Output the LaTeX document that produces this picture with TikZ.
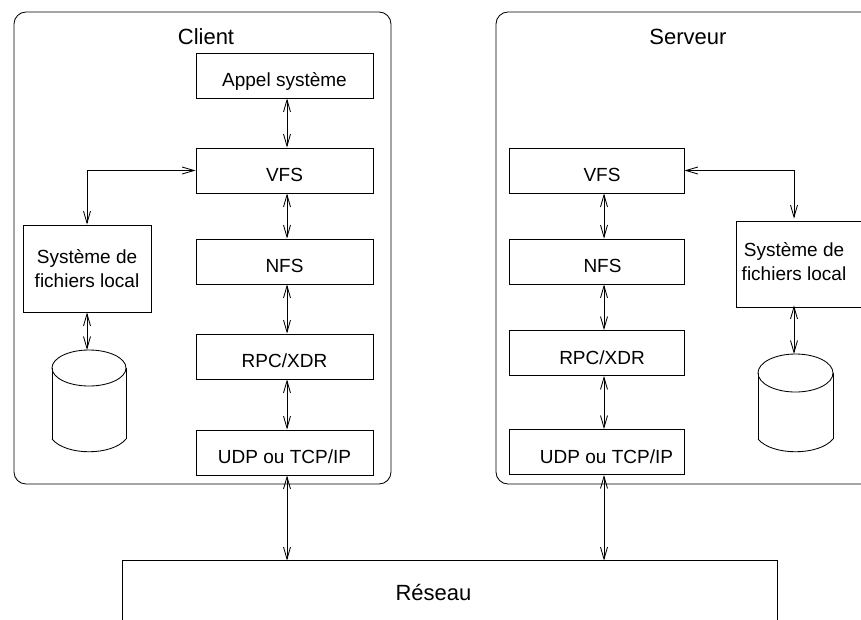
\documentclass[tikz,border=0pt]{standalone}
\usepackage{fontspec}
\setmainfont{Liberation Sans}
\usetikzlibrary{arrows.meta}
\begin{document}
\begin{tikzpicture}[x=1pt,y=-1pt,line width=0.85pt,
  >={Straight Barb[length=12pt,width=7pt]},
  layer/.style={draw,rectangle,inner sep=0pt,minimum height=45pt,
    text height=22pt,text depth=0pt,
    font=\fontsize{19}{24}\selectfont},
  clayer/.style={layer,minimum width=177pt},
  slayer/.style={layer,minimum width=175pt},
  lfsbox/.style={rectangle,inner sep=0pt,align=center,
    font=\fontsize{19}{24}\selectfont},
  container/.style={draw,rectangle,rounded corners=12pt,inner sep=0pt},
  title/.style={font=\fontsize{22}{26}\selectfont},
  link/.style={<->}]
\useasboundingbox (0,0) rectangle (861,619);

% host frames
\node[container,minimum width=377pt,minimum height=472pt] (client) at (202.5,248) {};
\node[container,minimum width=394pt,minimum height=472pt] (server) at (693,248) {};
\node[title] (clientlbl) at (206,37) {Client};
\node[title] (serverlbl) at (688,37) {Serveur};

% client stack
\node[clayer] (cApp) at (284.5,75.5)  {Appel système};
\node[clayer] (cVfs) at (284.5,170.5) {VFS};
\node[clayer] (cNfs) at (284.5,261.5) {NFS};
\node[clayer] (cRpc) at (284.5,356.5) {RPC/XDR};
\node[clayer] (cUdp) at (284.5,452.5) {UDP ou TCP/IP};
\node[lfsbox,draw,minimum width=128pt,minimum height=87pt] (cLfs) at (87,268.5)
  {Système de\\fichiers local};

% server stack
\node[slayer] (sVfs) at (596.5,170.5) {\hspace*{11pt}VFS};
\node[slayer] (sNfs) at (596.5,261.5) {\hspace*{12pt}NFS};
\node[slayer] (sRpc) at (596.5,353)   {\hspace*{11pt}RPC/XDR};
\node[slayer] (sUdp) at (596.5,452)   {\hspace*{20pt}UDP ou TCP/IP};
\node[lfsbox,minimum width=116pt,minimum height=86pt] (sLfs) at (794,262)
  {Système de\\fichiers local};
\draw (880,221) -| (736,307) -- (880,307);

% network
\node[rectangle,inner sep=0pt,minimum width=654pt,minimum height=62pt,
  font=\fontsize{22}{26}\selectfont] (net) at (450,592) {\hspace*{-33pt}Réseau};
\draw (net.south west) |- (net.north east) -- (net.south east);

% client disk
\coordinate (cDisk) at (89,350);
\draw (89,368) ellipse [x radius=37, y radius=18];
\draw (52,368) -- (52,439);
\draw (126,368) -- (126,439);
\draw (52,439) .. controls (66,456) and (112,456) .. (126,439);

% server disk
\coordinate (sDisk) at (795.5,354);
\draw (795.5,373) ellipse [x radius=37.5, y radius=19];
\draw (758,373) -- (758,439);
\draw (833,373) -- (833,439);
\draw (758,439) .. controls (772,456) and (819,456) .. (833,439);

% client links
\draw[link] ([xshift=2.5pt]cApp.south) -- ([xshift=2.5pt]cVfs.north);
\draw[link] ([xshift=2.5pt]cVfs.south) -- ([xshift=2.5pt]cNfs.north);
\draw[link] ([xshift=2.5pt]cNfs.south) -- ([xshift=2.5pt]cRpc.north);
\draw[link] ([xshift=2.5pt]cRpc.south) -- ([xshift=2.5pt]cUdp.north);
\draw[link] (cVfs.west) -| (cLfs.north);
\draw[link] (cLfs.south) -- (cLfs.south |- cDisk);
\draw[link] ([xshift=2.5pt]cUdp.south) -- ([xshift=2.5pt]cUdp.south |- net.north);

% server links
\draw[link] ([xshift=7.5pt]sVfs.south) -- ([xshift=7.5pt]sNfs.north);
\draw[link] ([xshift=7.5pt]sNfs.south) -- ([xshift=7.5pt]sRpc.north);
\draw[link] ([xshift=7.5pt]sRpc.south) -- ([xshift=7.5pt]sUdp.north);
\draw[link] (sVfs.east) -| (sLfs.north);
\draw[link] (sLfs.south) -- (sLfs.south |- sDisk);
\draw[link] ([xshift=7.5pt]sUdp.south) -- ([xshift=7.5pt]sUdp.south |- net.north);
\end{tikzpicture}
\end{document}
